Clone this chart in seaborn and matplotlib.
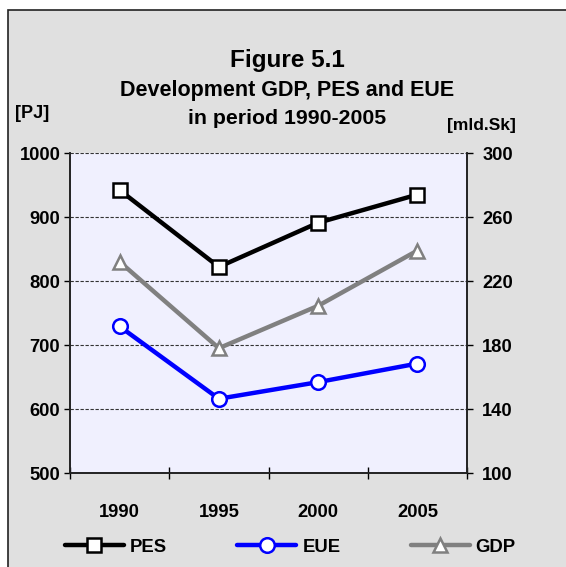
import matplotlib
matplotlib.use('Agg')
import matplotlib.pyplot as plt
import matplotlib.patches as mpatches
from matplotlib.lines import Line2D
import pandas as pd
import seaborn as sns

# data
years = ['1990', '1995', '2000', '2005']
pes = [942, 822, 891, 935]        # [PJ], left axis
eue = [729, 616, 642, 671]        # [PJ], left axis
gdp = [232, 178, 204.5, 239]      # [mld.Sk], right axis

left_ticks = [500, 600, 700, 800, 900, 1000]
right_ticks = [100, 140, 180, 220, 260, 300]

sns.set_style('ticks')
plt.rcParams['font.family'] = ['Liberation Sans', 'DejaVu Sans']
plt.rcParams['font.weight'] = 'bold'
plt.rcParams['text.color'] = 'black'
plt.rcParams['xtick.color'] = 'black'
plt.rcParams['ytick.color'] = 'black'

df = pd.DataFrame({'pos': range(len(years)), 'PES': pes, 'EUE': eue, 'GDP': gdp})

fig = plt.figure(figsize=(5.66, 5.67), dpi=100, facecolor='white')

# grey frame round the whole chart
frame = mpatches.Rectangle((8 / 566, -0.1), 1.2, 1.1 - 10 / 567,
                           transform=fig.transFigure, facecolor='#E0E0E0',
                           edgecolor='#222222', linewidth=1.2, zorder=-10)
fig.patches.append(frame)

ax = fig.add_axes([70 / 566, 1 - 473 / 567, 397 / 566, 320 / 567])
ax.set_facecolor('#F0F0FE')
ax2 = ax.twinx()

line_kw = dict(linewidth=3.2, markersize=10.5, markerfacecolor='white', markeredgewidth=1.8)
sns.lineplot(data=df, x='pos', y='PES', ax=ax, color='black', marker='s',
             markeredgecolor='black', zorder=5, **line_kw)
sns.lineplot(data=df, x='pos', y='EUE', ax=ax, color='#0000FF', marker='o',
             markeredgecolor='#0000FF', zorder=5, **line_kw)
sns.lineplot(data=df, x='pos', y='GDP', ax=ax2, color='#808080', marker='^',
             markeredgecolor='#808080', zorder=5, **line_kw)

ax.set_xlim(-0.5, len(years) - 0.5)
ax.set_ylim(500, 1000)
ax2.set_ylim(100, 300)
ax.set_yticks(left_ticks)
ax2.set_yticks(right_ticks)

ax.set_xticks(range(len(years)))
ax.set_xticklabels(years)
ax.set_xticks([i - 0.5 for i in range(len(years) + 1)], minor=True)
ax.tick_params(axis='x', which='major', length=0, pad=22, labelsize=13.2)
ax.tick_params(axis='x', which='minor', length=8, direction='inout', width=1)
ax.tick_params(axis='y', length=4, width=1, pad=3, labelsize=13.2)
ax2.tick_params(axis='y', length=4, width=1, pad=7, labelsize=13.2)
for lab in ax.get_xticklabels() + ax.get_yticklabels() + ax2.get_yticklabels():
    lab.set_fontweight('bold')

ax.set_xlabel('')
ax.set_ylabel('')
ax2.set_ylabel('')

# dashed grid
for v in left_ticks[1:]:
    ax.axhline(v, color='#333333', linestyle=(0, (3, 1.5)), linewidth=0.8, zorder=1)

for a in (ax, ax2):
    a.spines['top'].set_visible(False)
    for s in ('left', 'right', 'bottom'):
        a.spines[s].set_color('#222222')
        a.spines[s].set_linewidth(1.2)

# titles and axis units
fig.text(0.508, 0.893, 'Figure 5.1', ha='center', va='center', fontsize=17.5, fontweight='bold')
fig.text(0.508, 0.841, 'Development GDP, PES and EUE', ha='center', va='center',
         fontsize=15.5, fontweight='bold')
fig.text(0.508, 0.791, 'in period 1990-2005', ha='center', va='center',
         fontsize=15.3, fontweight='bold')
fig.text(32 / 566, 0.800, '[PJ]', ha='center', va='center', fontsize=13, fontweight='bold')
fig.text(481 / 566, 0.778, '[mld.Sk]', ha='center', va='center', fontsize=12.5, fontweight='bold')

handles = [
    Line2D([], [], color='black', marker='s', markeredgecolor='black', **line_kw),
    Line2D([], [], color='#0000FF', marker='o', markeredgecolor='#0000FF', **line_kw),
    Line2D([], [], color='#808080', marker='^', markeredgecolor='#808080', **line_kw),
]
fig.legend(handles, ['PES', 'EUE', 'GDP'], loc='center', bbox_to_anchor=(0.513, 0.035),
           ncol=3, frameon=False, handlelength=3.2, columnspacing=3.8, handletextpad=0.32,
           prop={'weight': 'bold', 'size': 13.3})

fig.savefig('out.png', dpi=100, facecolor='white')
